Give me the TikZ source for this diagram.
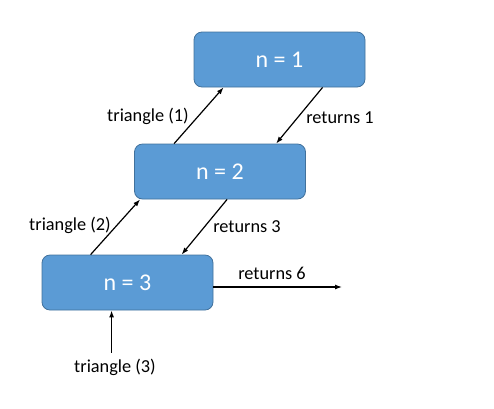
\documentclass[tikz,border=0pt]{standalone}
\usepackage{fontspec}
\setmainfont{Carlito}
\usetikzlibrary{arrows.meta}
\definecolor{boxblue}{HTML}{5B9BD5}
\definecolor{boxedge}{HTML}{41719C}

\begin{document}
\begin{tikzpicture}[x=1pt,y=-1pt,>={Latex[length=7pt,width=5pt]},
    callbox/.style={draw=boxedge, fill=boxblue, rounded corners=8pt, line width=0.8pt,
        minimum width=171pt, minimum height=55pt, inner sep=0pt,
        text=white, font=\fontsize{24}{27}\selectfont},
    lbl/.style={font=\fontsize{18.3}{20}\selectfont, inner sep=1pt},
    link/.style={->, line width=1.2pt}]
        % fix the size of the page
        \useasboundingbox (0,0) rectangle (494,408);

        % the three calls
        \node[callbox] (b1) at (279.5,59.5)  {n = 1};
        \node[callbox] (b2) at (220,171.5)   {n = 2};
        \node[callbox] (b3) at (127.5,282.5) {n = 3};

        % calls going up
        \draw[link] ([xshift=40pt]b2.north west) -- ([xshift=30pt]b1.south west);
        \draw[link] ([xshift=49pt]b3.north west) -- ([xshift=6pt]b2.south west);

        % values coming back down
        \draw[link] ([xshift=129pt]b1.south west) -- ([xshift=142pt]b2.north west);
        \draw[link] ([xshift=93pt]b2.south west) -- ([xshift=140pt]b3.north west);

        % the first call and the final result
        \coordinate (b3in) at ([xshift=70pt]b3.south west);
        \coordinate (done) at (342,287);
        \node[lbl] (l3) at (115,367) {triangle (3)};
        \draw[link] (l3.north -| b3in) ++(0,-5) -- (b3in);
        \draw[link] (b3.east |- done) -- (done);

        % labels
        \node[lbl] at (148,116) {triangle (1)};
        \node[lbl] at (70,225)  {triangle (2)};
        \node[lbl] at (340,118) {returns 1};
        \node[lbl] at (247,227) {returns 3};
        \node[lbl] at (272,273) {returns 6};
    \end{tikzpicture}
\end{document}
